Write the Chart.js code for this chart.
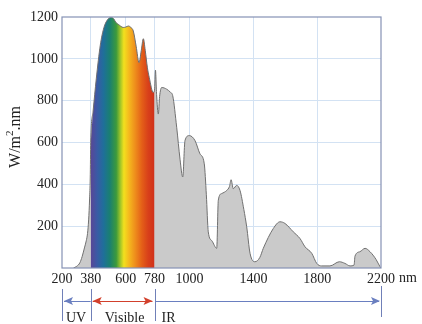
<!DOCTYPE html>
<html>
<head>
<meta charset="utf-8">
<script src="https://cdn.jsdelivr.net/npm/chart.js@4/dist/chart.umd.min.js"></script>
<style>
  html, body { margin: 0; padding: 0; background: #ffffff; }
  canvas { display: block; }
</style>
</head>
<body>
<canvas id="c" width="422" height="324"></canvas>
<script>
// ---- Data ----
const wavelengths = [272, 292, 312, 326, 342, 352, 360, 367, 373, 377, 380, 395, 415, 440, 463, 489, 512, 525, 540, 553, 584, 600, 616, 632, 647, 665, 683, 697, 710, 722, 735, 747, 772, 780,
  786, 793, 804, 812, 825, 856, 880, 894, 919, 940, 957, 971, 998, 1034, 1065, 1092, 1105, 1117, 1140, 1170, 1180, 1201, 1233, 1250, 1260, 1274, 1295, 1316, 1340, 1358, 1379, 1410,
  1440, 1462, 1525, 1567, 1598, 1650, 1692, 1724, 1766, 1797, 1828, 1880, 1939, 1974, 2006, 2031, 2037, 2068, 2100, 2131, 2169, 2194, 2200];
const irradiance = [0, 8, 25, 54, 100, 130, 165, 230, 330, 430, 600, 750, 905, 1065, 1150, 1190, 1198, 1190, 1172, 1165, 1150, 1152, 1157, 1150, 1133, 1060, 982, 1040, 1096, 1040, 960, 911, 839, 850,
  946, 830, 736, 820, 863, 855, 840, 824, 673, 520, 435, 609, 633, 609, 546, 498, 350, 173, 130, 94, 324, 356, 371, 390, 422, 379, 395, 371, 280, 197, 70, 30,
  50, 94, 189, 221, 213, 173, 141, 101, 70, 22, 10, 10, 30, 22, 10, 14, 57, 78, 94, 78, 41, 6, 0];
const xTickValues = [200, 380, 600, 780, 1000, 1400, 1800, 2200];
const yTickValues = [200, 400, 600, 800, 1000, 1200];
const bandEdges = [200, 380, 780, 2200];
const bandLabels = ['UV', 'Visible', 'IR'];
const visibleRange = [380, 780];
const rainbowColors = ['#5a4696', '#3a5aa5', '#1f6f9a', '#1a8070', '#3c9a3c', '#a8c828', '#f2e01e', '#f5b81e', '#ee8c1c', '#e46018', '#d8401a', '#d0301a'];
const rainbowPositions = [0, 0.1, 0.2, 0.3, 0.4, 0.47, 0.52, 0.6, 0.7, 0.8, 0.9, 1.0];
const yTitle = ['W/m', '2', '.nm'];
const xUnit = 'nm';

// ---- Build datasets ----
const fullPoints = wavelengths.map((w, i) => ({ x: w, y: irradiance[i] }));
const visiblePoints = fullPoints.filter(p => p.x >= visibleRange[0] && p.x <= visibleRange[1]);

const FONT = '"Liberation Serif", "DejaVu Serif", serif';
const TXT = '#222222';

function rainbowFill(ctx) {
  const chart = ctx.chart;
  if (!chart.chartArea) return '#d0301a';
  const xs = chart.scales.x;
  const x0 = xs.getPixelForValue(visibleRange[0]);
  const x1 = xs.getPixelForValue(visibleRange[1]);
  const g = chart.ctx.createLinearGradient(x0, 0, x1, 0);
  rainbowColors.forEach((c, i) => g.addColorStop(rainbowPositions[i], c));
  return g;
}

const decorPlugin = {
  id: 'decor',
  afterDatasetsDraw(chart) {
    const { ctx, chartArea: a } = chart;
    ctx.save();
    ctx.strokeStyle = '#8592b5';
    ctx.lineWidth = 1.2;
    ctx.strokeRect(a.left, a.top, a.right - a.left, a.bottom - a.top);
    ctx.restore();
  },
  afterDraw(chart) {
    const { ctx, chartArea: a, scales } = chart;
    const xs = scales.x;
    ctx.save();
    // unit after last tick
    ctx.font = '14px ' + FONT;
    ctx.fillStyle = TXT;
    ctx.textBaseline = 'middle';
    ctx.textAlign = 'left';
    const lastX = xs.getPixelForValue(xTickValues[xTickValues.length - 1]);
    const lastW = ctx.measureText(String(xTickValues[xTickValues.length - 1])).width;
    ctx.fillText(xUnit, lastX + lastW / 2 + 4, a.bottom + 10);

    // band annotations
    const px = bandEdges.map(v => xs.getPixelForValue(v));
    const yLine = 301;
    ctx.lineWidth = 1;
    // vertical separators
    ctx.strokeStyle = '#7080b8';
    px.forEach((x, i) => {
      const top = i === px.length - 1 ? 286 : 289;
      const bot = i === px.length - 1 ? 317 : 321;
      ctx.beginPath();
      ctx.moveTo(Math.round(x) + 0.5, top);
      ctx.lineTo(Math.round(x) + 0.5, bot);
      ctx.stroke();
    });
    function head(x, dir, color) {
      ctx.fillStyle = color;
      ctx.beginPath();
      ctx.moveTo(x, yLine);
      ctx.lineTo(x - dir * 9, yLine - 4);
      ctx.lineTo(x - dir * 7, yLine);
      ctx.lineTo(x - dir * 9, yLine + 4);
      ctx.closePath();
      ctx.fill();
    }
    const blue = '#6a7fc0', red = '#d2402c';
    // UV
    ctx.strokeStyle = blue;
    ctx.beginPath(); ctx.moveTo(px[0] + 2, yLine + 0.5); ctx.lineTo(px[1], yLine + 0.5); ctx.stroke();
    head(px[0] + 2, -1, blue);
    // Visible
    ctx.strokeStyle = red;
    ctx.beginPath(); ctx.moveTo(px[1] + 2, yLine + 0.5); ctx.lineTo(px[2] - 2, yLine + 0.5); ctx.stroke();
    head(px[1] + 2, -1, red);
    head(px[2] - 2, 1, red);
    // IR
    ctx.strokeStyle = blue;
    ctx.beginPath(); ctx.moveTo(px[2] + 1, yLine + 0.5); ctx.lineTo(px[3] - 2, yLine + 0.5); ctx.stroke();
    head(px[3] - 1, 1, blue);

    // band labels
    ctx.fillStyle = TXT;
    ctx.font = '14px ' + FONT;
    ctx.textBaseline = 'alphabetic';
    ctx.textAlign = 'left';
    ctx.fillText(bandLabels[0], px[0] + 4, 322);
    ctx.textAlign = 'center';
    ctx.fillText(bandLabels[1], (px[1] + px[2]) / 2 + 2, 322);
    ctx.textAlign = 'left';
    ctx.fillText(bandLabels[2], px[2] + 7, 322);

    // y title with superscript
    ctx.save();
    ctx.translate(20, 137);
    ctx.rotate(-Math.PI / 2);
    const big = '16px ' + FONT, small = '11px ' + FONT;
    ctx.font = big; const w1 = ctx.measureText(yTitle[0]).width; const w3 = ctx.measureText(yTitle[2]).width;
    ctx.font = small; const w2 = ctx.measureText(yTitle[1]).width;
    let sx = -(w1 + w2 + w3) / 2;
    ctx.textAlign = 'left';
    ctx.textBaseline = 'alphabetic';
    ctx.font = big; ctx.fillText(yTitle[0], sx, 0); sx += w1;
    ctx.font = small; ctx.fillText(yTitle[1], sx, -7); sx += w2;
    ctx.font = big; ctx.fillText(yTitle[2], sx, 0);
    ctx.restore();

    ctx.restore();
  }
};

new Chart(document.getElementById('c'), {
  type: 'line',
  data: {
    datasets: [
      {
        data: visiblePoints,
        parsing: false,
        borderWidth: 0,
        borderColor: 'rgba(0,0,0,0)',
        backgroundColor: rainbowFill,
        fill: 'origin',
        pointRadius: 0,
        cubicInterpolationMode: 'monotone'
      },
      {
        data: fullPoints,
        parsing: false,
        borderWidth: 1,
        borderColor: '#707070',
        backgroundColor: '#cacaca',
        fill: 'origin',
        pointRadius: 0,
        cubicInterpolationMode: 'monotone'
      }
    ]
  },
  options: {
    responsive: false,
    animation: false,
    devicePixelRatio: 1,
    layout: { padding: { top: 17, right: 41, left: 0, bottom: 0 } },
    plugins: {
      legend: { display: false },
      tooltip: { enabled: false },
      filler: { drawTime: 'beforeDatasetsDraw' }
    },
    scales: {
      x: {
        type: 'linear',
        min: 200,
        max: 2200,
        afterBuildTicks: s => { s.ticks = xTickValues.map(v => ({ value: v })); },
        afterFit: s => { s.height = 56; },
        ticks: {
          autoSkip: false, maxRotation: 0, padding: 3,
          color: TXT, font: { family: FONT, size: 14 },
          callback: v => String(v)
        },
        grid: {
          drawTicks: false,
          lineWidth: 1,
          color: c => (c.tick && (c.tick.value === 200 || c.tick.value === 2200)) ? 'rgba(0,0,0,0)' : '#d3e2f3'
        },
        border: { display: false }
      },
      y: {
        min: 0,
        max: 1200,
        afterBuildTicks: s => { s.ticks = [0].concat(yTickValues).map(v => ({ value: v })); },
        afterFit: s => { s.width = 62; },
        ticks: {
          padding: 4, color: TXT, font: { family: FONT, size: 14 },
          callback: v => (v === 0 ? '' : String(v))
        },
        grid: {
          drawTicks: false,
          lineWidth: 1,
          color: c => (c.tick && (c.tick.value === 0 || c.tick.value === 1200)) ? 'rgba(0,0,0,0)' : '#d3e2f3'
        },
        border: { display: false }
      }
    }
  },
  plugins: [decorPlugin]
});
</script>
</body>
</html>
